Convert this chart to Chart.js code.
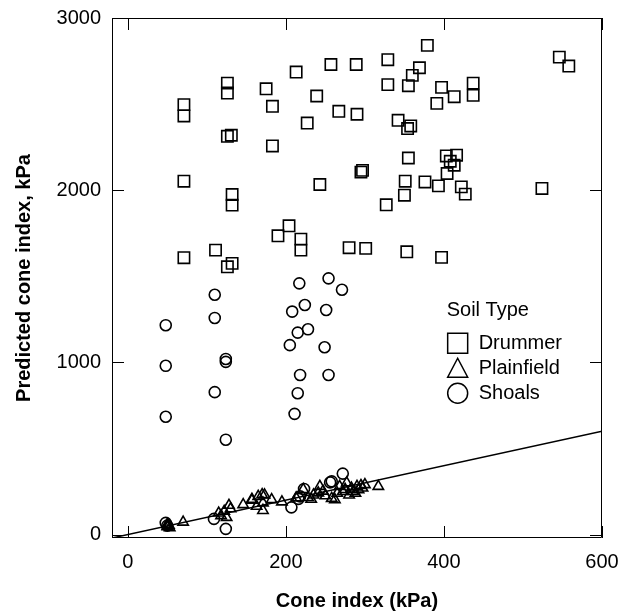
<!DOCTYPE html>
<html>
<head>
<meta charset="utf-8">
<script src="https://cdn.jsdelivr.net/npm/chart.js@4/dist/chart.umd.min.js"></script>
<style>
  html, body { margin: 0; padding: 0; background: #ffffff; }
  canvas { display: block; }
</style>
</head>
<body>
<canvas id="c" width="618" height="611"></canvas>
<script>
// ---- Data ----
const xTicks = [0, 200, 400, 600];
const yTicks = [0, 1000, 2000, 3000];
const xTitle = 'Cone index (kPa)';
const yTitle = 'Predicted cone index, kPa';
const legendTitle = 'Soil Type';
const seriesNames = ['Drummer', 'Plainfield', 'Shoals'];

const drummerX = [71, 71, 126, 126, 175, 213, 257, 289, 239, 183, 267, 290, 227, 126, 131, 183, 71, 243, 295, 297, 132, 132, 204, 190, 219, 219, 280, 301, 71, 111, 126, 132,
  379, 329, 369, 360, 329, 355, 397, 437, 437, 413, 391, 546, 558, 342, 358, 354, 355, 403, 416, 408, 413, 404, 393, 422, 427, 351, 350, 376, 327, 524, 353, 397];
const drummerY = [2497, 2431, 2622, 2564, 2589, 2686, 2730, 2730, 2547, 2487, 2458, 2441, 2390, 2313, 2319, 2257, 2052, 2033, 2105, 2115, 1975, 1913, 1793, 1735, 1716, 1652, 1666, 1662, 1608, 1652, 1555, 1575,
  2841, 2758, 2711, 2667, 2613, 2607, 2597, 2622, 2551, 2543, 2504, 2773, 2721, 2406, 2373, 2358, 2187, 2199, 2203, 2168, 2145, 2097, 2025, 2019, 1977, 2052, 1971, 2048, 1915, 2010, 1642, 1610];

const plainfieldX = [50, 50, 52, 50, 53, 70, 115, 118, 122, 128, 125, 130, 146, 157, 157, 163, 165, 170, 171, 171, 173, 182, 195, 213, 222, 228, 232, 235, 241, 243, 247, 250, 258, 262, 265, 268, 272, 275, 277, 280, 283, 285, 288, 290, 292, 295, 297, 300, 317];
const plainfieldY = [45, 50, 55, 60, 40, 72, 125, 110, 135, 170, 100, 150, 174, 199, 205, 164, 222, 232, 184, 140, 230, 203, 190, 213, 262, 215, 205, 230, 242, 280, 252, 225, 210, 203, 240, 280, 250, 262, 300, 230, 270, 250, 240, 280, 260, 285, 270, 290, 280];

const shoalsX = [48, 48, 48, 110, 110, 124, 124, 110, 124, 217, 254, 271, 224, 208, 251, 228, 215, 205, 249, 218, 254, 215, 211,
  48, 50, 109, 124, 207, 216, 223, 256, 272, 258, 218];
const shoalsY = [1216, 980, 684, 1393, 1258, 1020, 1003, 827, 551, 1459, 1488, 1422, 1333, 1295, 1304, 1192, 1173, 1100, 1088, 927, 927, 821, 701,
  68, 52, 91, 33, 158, 207, 265, 303, 354, 309, 222];

// 1:1 reference line end values
const oneToOne = [-20, 600];

// ---- Build chart ----
const pts = (xs, ys) => xs.map((x, i) => ({ x: x, y: ys[i] }));
const FONT = "'Liberation Sans', Arial, Helvetica, sans-serif";
const markerStyles = ['rect', 'triangle', 'circle'];

const frameAndTicks = {
  id: 'frameAndTicks',
  beforeDatasetsDraw(chart) {
    const { ctx, chartArea: a, scales } = chart;
    ctx.save();
    ctx.strokeStyle = '#000';
    ctx.lineWidth = 1;
    ctx.beginPath();
    ctx.rect(a.left + 0.5, a.top + 0.5, a.right - a.left - 1, a.bottom - a.top - 1);
    ctx.stroke();
    const L = 12;
    ctx.beginPath();
    scales.x.ticks.forEach(t => {
      const px = Math.round(scales.x.getPixelForValue(t.value)) + 0.5;
      ctx.moveTo(px, a.bottom); ctx.lineTo(px, a.bottom - L);
      ctx.moveTo(px, a.top); ctx.lineTo(px, a.top + L);
    });
    scales.y.ticks.forEach(t => {
      const py = Math.round(scales.y.getPixelForValue(t.value)) + 0.5;
      ctx.moveTo(a.left, py); ctx.lineTo(a.left + L, py);
      ctx.moveTo(a.right, py); ctx.lineTo(a.right - L, py);
    });
    ctx.stroke();
    ctx.restore();
  },
  afterDraw(chart) {
    const { ctx, chartArea: a } = chart;
    const w = a.right - a.left, h = a.bottom - a.top;
    const tx = a.left + w * 0.683;
    const ty = a.top + h * 0.562;
    ctx.save();
    ctx.fillStyle = '#000';
    ctx.strokeStyle = '#000';
    ctx.lineWidth = 1.5;
    ctx.font = '20px ' + FONT;
    ctx.textBaseline = 'middle';
    ctx.textAlign = 'left';
    ctx.fillText(legendTitle, tx, ty);
    const mx = tx + 11, textX = tx + 32;
    seriesNames.forEach((name, i) => {
      const my = ty + 33 + i * 25;
      ctx.beginPath();
      if (markerStyles[i] === 'rect') {
        ctx.rect(mx - 10, my - 10, 20, 20);
      } else if (markerStyles[i] === 'triangle') {
        ctx.moveTo(mx, my - 10); ctx.lineTo(mx + 10, my + 9); ctx.lineTo(mx - 10, my + 9); ctx.closePath();
      } else {
        ctx.arc(mx, my, 10, 0, Math.PI * 2);
      }
      ctx.stroke();
      ctx.fillText(name, textX, my);
    });
    ctx.restore();
  }
};

const transparent = 'rgba(0,0,0,0)';
const plain = v => String(v);
new Chart(document.getElementById('c'), {
  type: 'scatter',
  data: {
    datasets: [
      { type: 'line', label: '1:1', data: pts(oneToOne, oneToOne), borderColor: '#000', borderWidth: 1.5, pointRadius: 0, fill: false },
      { label: seriesNames[0], data: pts(drummerX, drummerY), pointStyle: 'rect', pointRadius: 8, borderColor: '#000', backgroundColor: transparent, borderWidth: 1.6 },
      { label: seriesNames[1], data: pts(plainfieldX, plainfieldY), pointStyle: 'triangle', pointRadius: 6, borderColor: '#000', backgroundColor: transparent, borderWidth: 1.6 },
      { label: seriesNames[2], data: pts(shoalsX, shoalsY), pointStyle: 'circle', pointRadius: 5.5, borderColor: '#000', backgroundColor: transparent, borderWidth: 1.6 }
    ]
  },
  options: {
    responsive: false,
    animation: false,
    devicePixelRatio: 1,
    layout: { padding: { top: 18, right: 16, bottom: 0, left: 0 } },
    plugins: { legend: { display: false }, tooltip: { enabled: false } },
    scales: {
      x: {
        type: 'linear', min: -20, max: 600,
        afterBuildTicks: s => { s.ticks = xTicks.map(v => ({ value: v })); },
        afterFit: s => { s.height = 73; s.paddingLeft = 0; s.paddingRight = 0; },
        grid: { display: false, drawTicks: false },
        border: { display: false },
        ticks: { color: '#000', font: { family: FONT, size: 20 }, padding: 12, maxRotation: 0, callback: plain },
        title: { display: true, text: xTitle, color: '#000', font: { family: FONT, size: 20, weight: 'bold' }, padding: { top: 0, bottom: -2 } }
      },
      y: {
        type: 'linear', min: -20, max: 3000,
        afterBuildTicks: s => { s.ticks = yTicks.map(v => ({ value: v })); },
        afterFit: s => { s.width = 112; s.paddingTop = 0; s.paddingBottom = 0; },
        grid: { display: false, drawTicks: false },
        border: { display: false },
        ticks: { color: '#000', font: { family: FONT, size: 20 }, padding: 11, callback: plain },
        title: { display: true, text: yTitle, color: '#000', font: { family: FONT, size: 20, weight: 'bold' }, padding: { top: 12, bottom: 0 } }
      }
    }
  },
  plugins: [frameAndTicks]
});
</script>
</body>
</html>
